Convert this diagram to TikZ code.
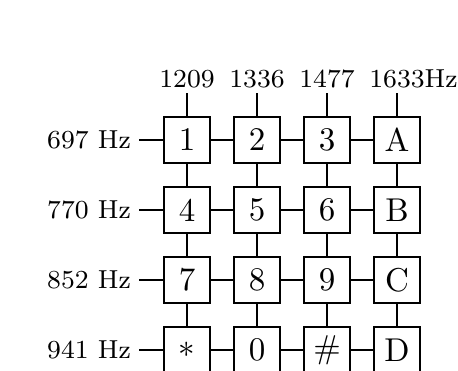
\documentclass[tikz,border=0pt]{standalone}
\newcommand{\labtxt}[1]{\scalebox{3.25}{\fontsize{8}{9.6}\selectfont #1}}
\newcommand{\keytxt}[1]{\scalebox{3.3}{\fontsize{10}{12}\selectfont #1}}
\begin{document}
\begin{tikzpicture}[x=1pt,y=-1pt,
  keybox/.style={draw, line width=1.3pt, minimum size=46pt, inner sep=0pt},
  freqlab/.style={inner sep=0pt},
  wire/.style={line width=1.3pt}]
\useasboundingbox (0,0) rectangle (458,370);
\clip (0,0) rectangle (458,370);
\fill[white] (0,0) rectangle (458,370);
% column labels
\foreach \j/\x/\t in {1/187/1209,2/257/1336,3/327/1477,4/397/{1633\rlap{Hz}}}{
  \node[freqlab, anchor=base] (c\j) at (\x,87) {\labtxt{\t}};
  \coordinate (t\j) at (\x,93);
}
% row labels
\foreach \i/\y/\t in {1/140/697,2/210/770,3/280/852,4/350/941}{
  \node[freqlab, anchor=base east] (r\i) at (131,\y+8) {\labtxt{\t\ Hz}};
  \coordinate (s\i) at (139,\y);
}
% keys
\foreach \i/\y/\a/\b/\c/\d in {1/140/1/2/3/A,2/210/4/5/6/B,3/280/7/8/9/C,4/350/{$\ast$}/0/{\#}/D}{
  \node[keybox] (k\i1) at (187,\y) {\keytxt{\a}};
  \node[keybox] (k\i2) at (257,\y) {\keytxt{\b}};
  \node[keybox] (k\i3) at (327,\y) {\keytxt{\c}};
  \node[keybox] (k\i4) at (397,\y) {\keytxt{\d}};
}
% wires
\foreach \j in {1,2,3,4}{
  \draw[wire] (t\j) -- (k1\j.north);
  \draw[wire] (k1\j.south) -- (k2\j.north);
  \draw[wire] (k2\j.south) -- (k3\j.north);
  \draw[wire] (k3\j.south) -- (k4\j.north);
}
\foreach \i in {1,2,3,4}{
  \draw[wire] (s\i) -- (k\i1.west);
  \draw[wire] (k\i1.east) -- (k\i2.west);
  \draw[wire] (k\i2.east) -- (k\i3.west);
  \draw[wire] (k\i3.east) -- (k\i4.west);
}
\end{tikzpicture}
\end{document}
